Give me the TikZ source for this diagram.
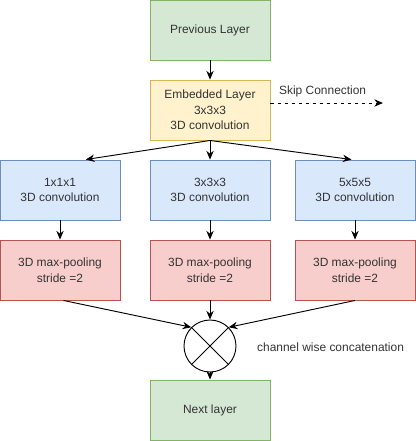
\documentclass[tikz,border=0pt]{standalone}
\usepackage{fontspec}
\setmainfont{Liberation Sans}
\usetikzlibrary{arrows.meta}
\definecolor{grnfill}{HTML}{D5E8D4}\definecolor{grnline}{HTML}{82B366}
\definecolor{ylwfill}{HTML}{FFF2CC}\definecolor{ylwline}{HTML}{D6B656}
\definecolor{blufill}{HTML}{DAE8FC}\definecolor{bluline}{HTML}{6C8EBF}
\definecolor{redfill}{HTML}{F8CECC}\definecolor{redline}{HTML}{B85450}
\definecolor{txt}{HTML}{333333}
\tikzset{
  layer/.style={draw, line width=0.8pt, minimum width=3.6cm, minimum height=1.8cm,
                align=center, inner sep=1pt, text=txt},
  io/.style={layer, fill=grnfill, draw=grnline},
  embed/.style={layer, fill=ylwfill, draw=ylwline},
  conv/.style={layer, fill=blufill, draw=bluline},
  pool/.style={layer, fill=redfill, draw=redline},
  ptr/.style={-{Stealth[length=2.6mm,width=2.2mm]}, line width=0.8pt},
}

\begin{document}
\begin{tikzpicture}[x=0.03cm, y=-0.03cm,
  font=\fontsize{10.2}{13.2}\selectfont]
\useasboundingbox (0,0) rectangle (416,441);

%% input and embedding
\node[io] (prev) at (210,30) {Previous Layer};
\node[embed] (emb) at (210,110) {Embedded Layer\\3x3x3\\3D convolution};

%% skip connection
\coordinate (skipend) at (383,103);
\draw[ptr, dashed] (emb.east |- skipend) -- (skipend);
\node[anchor=west, text=txt] (skiplbl) at (275,91) {Skip Connection};

%% three branches
\foreach \k/\x/\s in {1/60/1x1x1, 2/210/3x3x3, 3/355/5x5x5} {
  \node[conv] (conv\k) at (\x,190) {\s\\3D convolution};
  \node[pool] (pool\k) at (\x,270) {3D max-pooling\\stride =2};
  \draw[ptr] (conv\k) -- (pool\k);
}

%% concatenation
\node[draw, circle, minimum size=1.56cm, inner sep=0pt, line width=0.8pt] (cat) at (210,346) {};
\draw[line width=0.8pt] (cat.north west) -- (cat.south east);
\draw[line width=0.8pt] (cat.north east) -- (cat.south west);
\node[anchor=west, text=txt] (catlbl) at (253,347) {channel wise concatenation};

\node[io] (next) at (210,410) {Next layer};

%% connectors
\draw[ptr] (prev) -- (emb);
\draw[ptr] (emb.south) -- ([xshift=22]conv1.north);
\draw[ptr] (emb.south) -- (conv2.north);
\draw[ptr] (emb.south) -- ([xshift=-3]conv3.north);
\draw[ptr] ([xshift=3]pool1.south) -- (cat.north west);
\draw[ptr] (pool2.south) -- (cat.north);
\draw[ptr] (pool3.south) -- (cat.north east);
\draw[ptr] (cat.south) -- (next.north);

\end{tikzpicture}
\end{document}
